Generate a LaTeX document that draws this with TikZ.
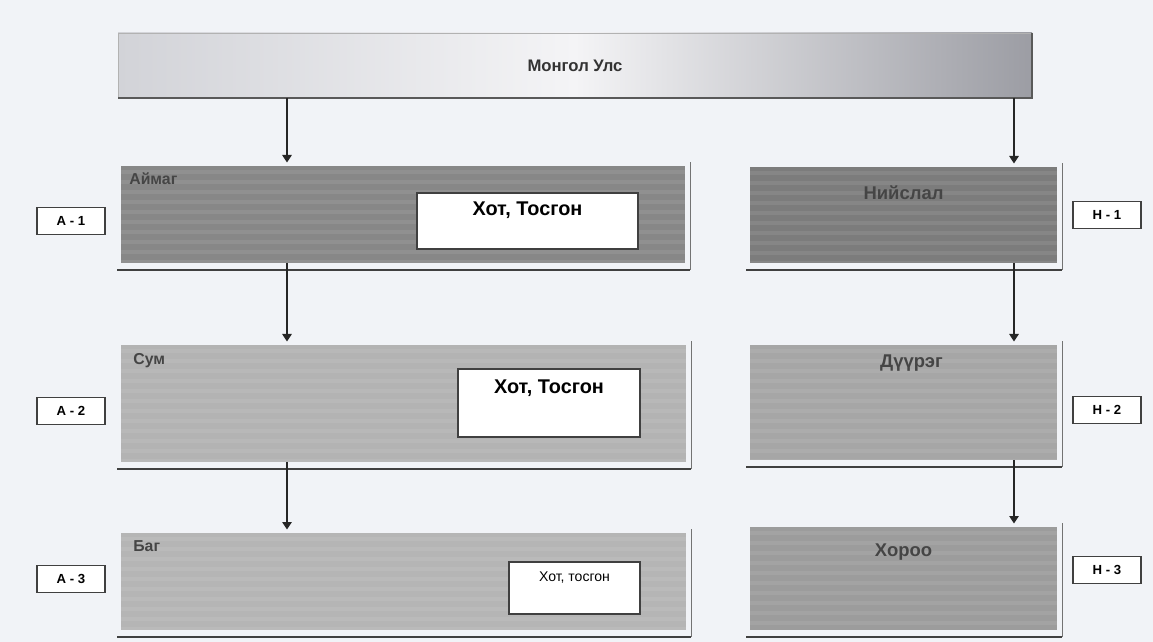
\documentclass[tikz,border=0pt]{standalone}
\usepackage{fontspec}
\setmainfont{Liberation Sans}
\usetikzlibrary{positioning,arrows.meta}

\definecolor{bg}{HTML}{F1F3F7}
\definecolor{barlight}{HTML}{F4F4F6}
\definecolor{barleft}{HTML}{D2D3D8}
\definecolor{barright}{HTML}{9C9DA4}
\definecolor{aimagc}{HTML}{878787}
\definecolor{sumc}{HTML}{B3B3B3}
\definecolor{bagc}{HTML}{B5B5B5}
\definecolor{niislelc}{HTML}{7C7C7C}
\definecolor{duuregc}{HTML}{A6A6A6}
\definecolor{khorooc}{HTML}{9C9C9C}
\definecolor{labelc}{HTML}{454545}

\tikzset{
  lvl/.style={anchor=north west, inner sep=0pt, outer sep=0pt},
  town/.style={anchor=north west, draw=black!75, line width=1pt, fill=white, inner sep=0pt, outer sep=0pt},
  towntext/.style={anchor=north, inner sep=0pt, font=\fontsize{11.3}{12}\selectfont\bfseries},
  tag/.style={draw=black!75, line width=0.9pt, fill=white, minimum width=13.6mm, minimum height=5.4mm, inner sep=0pt, font=\fontsize{7.5}{8}\selectfont\bfseries},
  lvltext/.style={inner sep=0pt, text=labelc, font=\fontsize{9}{10}\selectfont\bfseries},
  captext/.style={inner sep=0pt, anchor=north, text=labelc, font=\fontsize{10.5}{11}\selectfont\bfseries},
  arr/.style={-{Triangle[width=1.9mm, length=1.5mm]}, line width=0.7pt, black!85, shorten >=0.7mm},
}

\begin{document}
\begin{tikzpicture}[x=0.2mm, y=-0.2mm]
  \useasboundingbox (0,0) rectangle (1153,642);
  \fill[bg] (0,0) rectangle (1153,642);

  % country bar
  \node[lvl, minimum width=182.8mm, minimum height=13mm,
    left color=barleft, right color=barright, middle color=barlight,
    text=black!80, font=\fontsize{9.5}{10}\selectfont\bfseries] (mongol) at (118,33) {Монгол Улс};
  \draw[black!30, line width=0.5pt] (mongol.south west) -- (mongol.north west) -- (mongol.north east);
  \draw[black!65, line width=1.4pt] (mongol.south west) -- (mongol.south east) -- (mongol.north east);

  % level boxes with shadow lines
  \foreach \n/\x/\y/\w/\h/\c in {aimag/121/166/564/97/aimagc, sum/121/345/565/117/sumc,
      bag/121/533/565/97/bagc, niislel/750/167/307/96/niislelc,
      duureg/750/345/307/115/duuregc, khoroo/750/527/307/103/khorooc} {
    \node[lvl, fill=\c, minimum width=\w*0.2mm, minimum height=\h*0.2mm] (\n) at (\x,\y) {};
    \begin{scope}
      \clip (\x,\y) rectangle ++(\w,\h);
      \foreach \s in {4,14,...,\h}
        \fill[white, opacity=0.08] (\x,\y+\s) rectangle ++(\w,4);
    \end{scope}
    \draw[black!75, line width=1pt] ([shift={(-4,7)}]\n.south west) -- ([shift={(5,7)}]\n.south east);
    \draw[black!55, line width=0.5pt] ([shift={(5,7)}]\n.south east) -- ([shift={(5,-4)}]\n.north east);
  }

  % level names
  \node[lvltext, below right=1.2mm and 1.6mm of aimag.north west] (aimagname) {Аймаг};
  \node[lvltext, below right=1.6mm and 2.4mm of sum.north west] (sumname) {Сум};
  \node[lvltext, below right=1.4mm and 2.4mm of bag.north west] (bagname) {Баг};
  \node[captext, below=3.6mm of niislel.north] (niislelname) {Нийслал};
  \node[captext, below=1.8mm of duureg.north, xshift=1.6mm] (duuregname) {Дүүрэг};
  \node[captext, below=3.2mm of khoroo.north] (khorooname) {Хороо};

  % towns inside the left boxes
  \node[town, minimum width=44.2mm, minimum height=11.2mm] (aimagtown) at (417,193) {};
  \node[town, minimum width=36.4mm, minimum height=13.6mm] (sumtown) at (458,369) {};
  \node[town, minimum width=26.2mm, minimum height=10.4mm] (bagtown) at (509,562) {};
  \node[towntext, below=1.6mm of aimagtown.north] {Хот, Тосгон};
  \node[towntext, below=2mm of sumtown.north] {Хот, Тосгон};
  \node[towntext, below=1.8mm of bagtown.north, font=\fontsize{8}{9}\selectfont] {Хот, тосгон};

  % tags
  \foreach \n/\t/\x/\y in {ta1/А - 1/71/221, ta2/А - 2/71/411, ta3/А - 3/71/579,
      th1/Н - 1/1107/215, th2/Н - 2/1107/410, th3/Н - 3/1107/570}
    \node[tag] (\n) at (\x,\y) {\t};

  % arrows
  \coordinate (la) at (287,0);
  \coordinate (ra) at (1014,0);
  \draw[arr] (mongol.south -| la) -- (aimag.north -| la);
  \draw[arr] (aimag.south -| la) -- (sum.north -| la);
  \draw[arr] (sum.south -| la) -- (bag.north -| la);
  \draw[arr] (mongol.south -| ra) -- (niislel.north -| ra);
  \draw[arr] (niislel.south -| ra) -- (duureg.north -| ra);
  \draw[arr] (duureg.south -| ra) -- (khoroo.north -| ra);
\end{tikzpicture}
\end{document}
